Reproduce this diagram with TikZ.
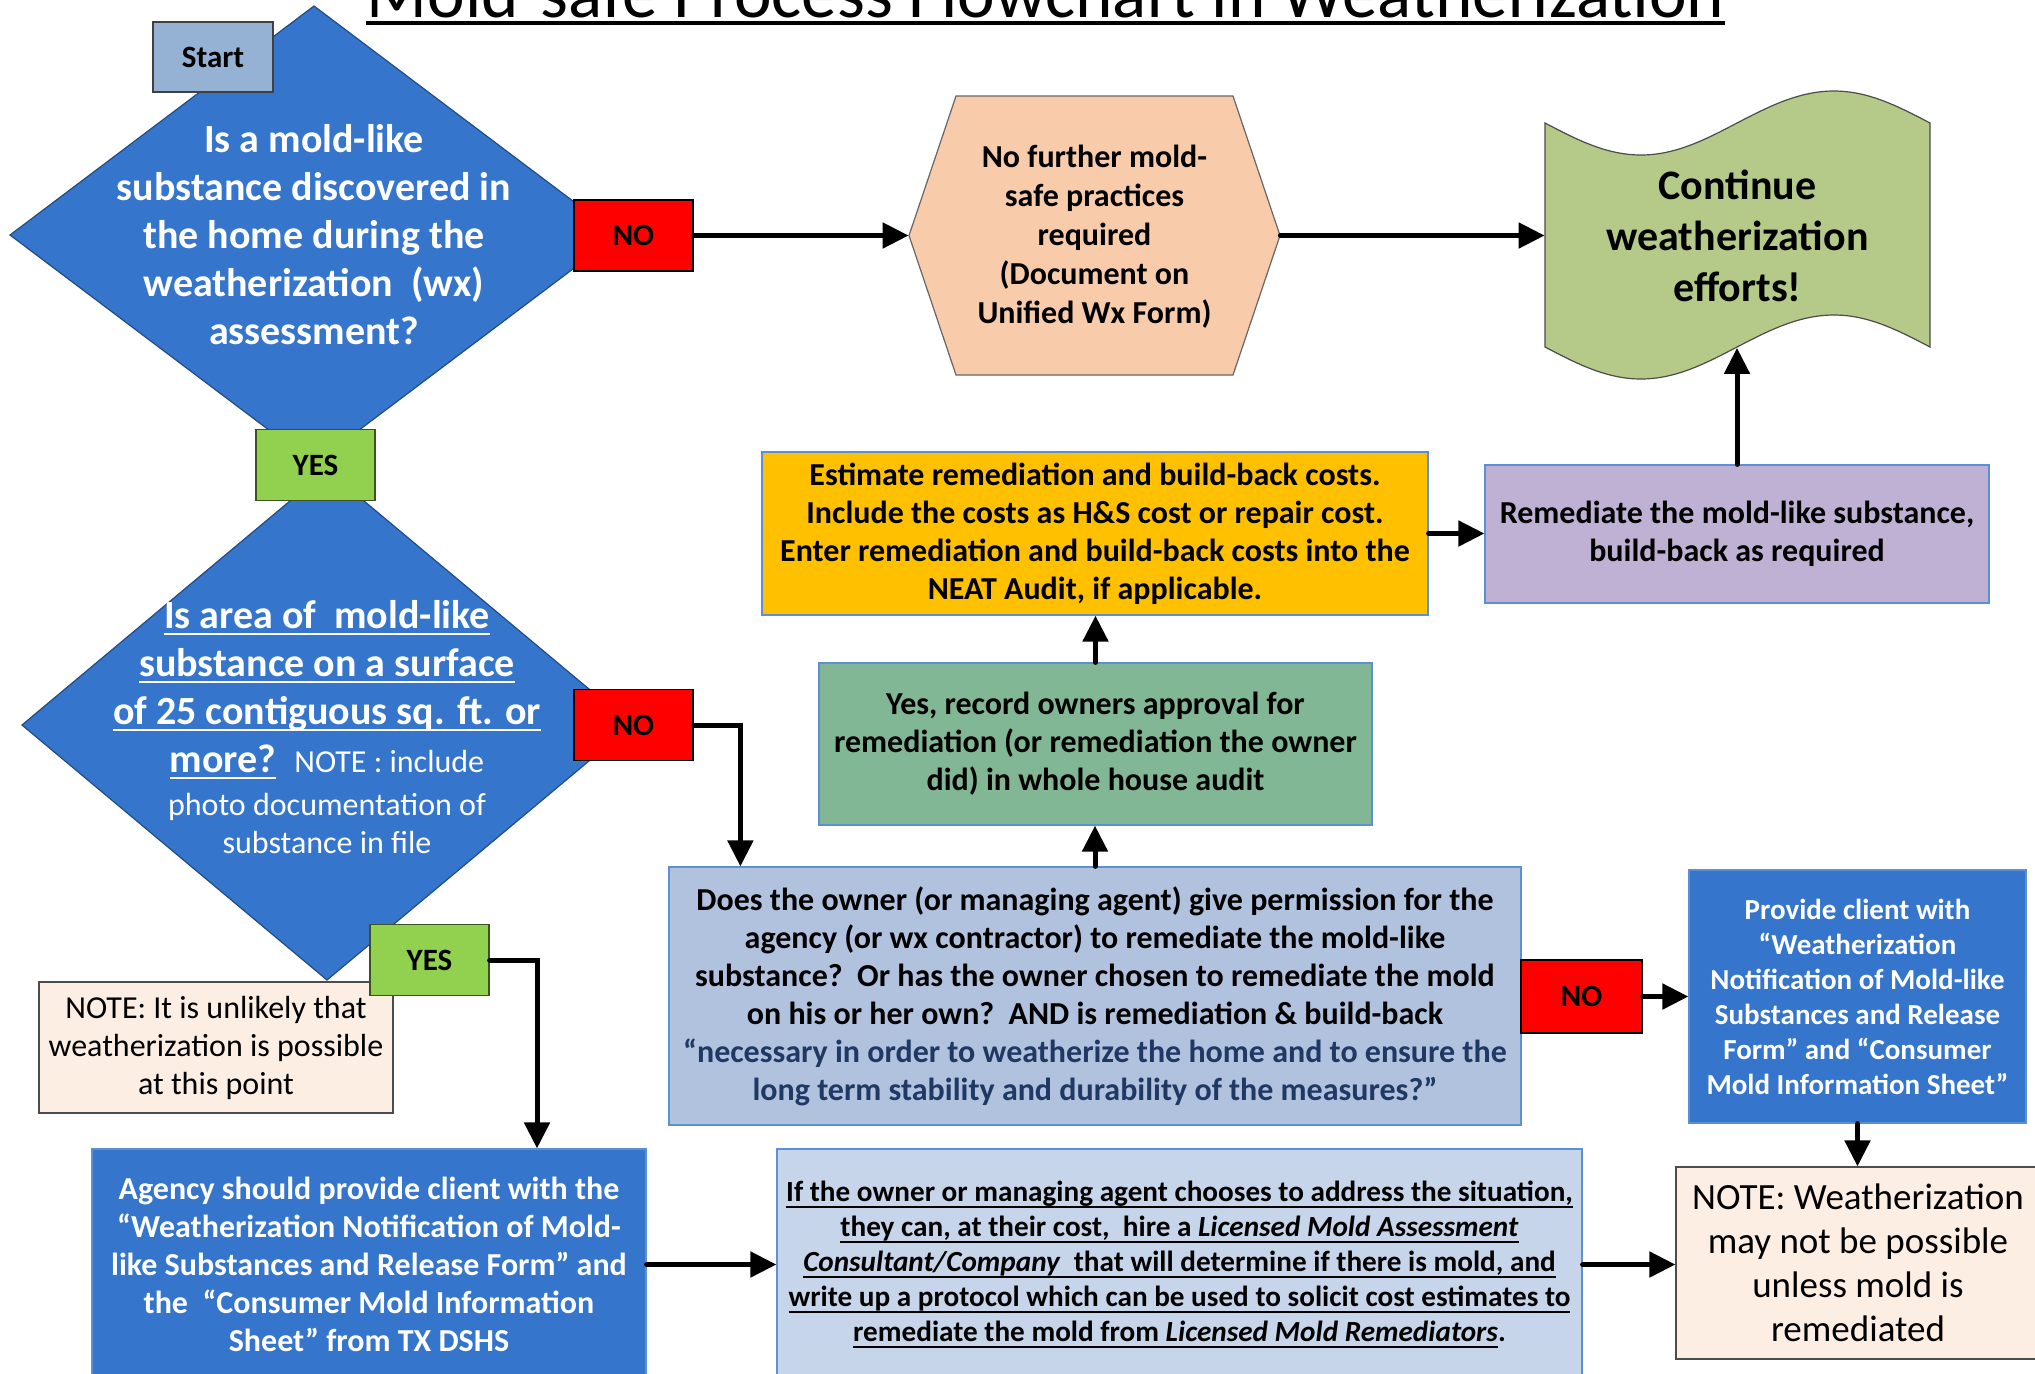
\documentclass[tikz,border=0pt]{standalone}
\usepackage{fontspec}
\setmainfont{Carlito}
\usetikzlibrary{arrows.meta}
\definecolor{B1}{RGB}{53,117,204}
\definecolor{S1}{RGB}{149,177,212}
\definecolor{G1}{RGB}{146,208,80}
\definecolor{P1}{RGB}{248,203,170}
\definecolor{W1}{RGB}{181,201,136}
\definecolor{O1}{RGB}{255,192,0}
\definecolor{V1}{RGB}{191,177,211}
\definecolor{A1}{RGB}{129,183,148}
\definecolor{Q1}{RGB}{176,194,222}
\definecolor{L1}{RGB}{198,213,233}
\definecolor{N1}{RGB}{253,238,227}
\definecolor{E1}{RGB}{91,143,214}
\definecolor{T1}{RGB}{31,56,100}
\newsavebox\ulbox
\newcommand\uln[1]{\sbox\ulbox{#1}\rlap{\rule[-3.5pt]{\wd\ulbox}{1pt}}\usebox\ulbox}
\newcommand\smtxt{\fontsize{16}{19}\selectfont\mdseries}

\begin{document}
\begin{tikzpicture}[x=0.5pt, y=-0.5pt,
    every node/.style={inner sep=0pt, align=center},
    lab/.style={draw=black, line width=0.6pt, minimum width=59.5pt, minimum height=35.5pt, font=\fontsize{15.5}{18}\selectfont\bfseries},
    nolab/.style={lab, fill=red},
    yeslab/.style={lab, fill=G1, draw=black!60!G1},
    stepbox/.style={draw=E1, line width=0.6pt, font=\fontsize{16}{19}\selectfont\bfseries},
    bluebox/.style={stepbox, fill=B1, text=white},
    notebox/.style={draw=black!70, fill=N1, line width=0.6pt},
    dia/.style={fill=B1, draw=B1!65!black, line width=0.6pt},
    flow/.style={line width=2.5pt, line cap=round, -{Triangle[length=13pt,width=12.5pt]}}]
  \useasboundingbox (0,0) rectangle (2035,1373);

  % title
  \node[anchor=base, font=\fontsize{35.6}{40}\selectfont] (title) at (1045.5,17) {Mold-safe Process Flowchart in Weatherization};
  \draw[line width=2pt] ([yshift=-3pt]title.base west) -- ([yshift=-3pt]title.base east);

  % first question
  \filldraw[dia] (314,6) -- (618,235) -- (314,464) -- (10,235) -- cycle;
  \node[text=white, font=\fontsize{20}{24}\selectfont\bfseries] (q1) at (314,235)
    {Is a mold-like\\substance discovered in\\the home during the\\weatherization\ \ (wx)\\assessment?};
  \node[fill=S1, draw=black!75, line width=0.6pt, minimum width=60pt, minimum height=35pt,
        font=\fontsize{15.5}{18}\selectfont\bfseries] (start) at (213,57) {Start};
  \node[nolab] (no1) at (633.5,235.5) {NO};

  % no further practices
  \filldraw[fill=P1, draw=black!60, line width=0.6pt] (909,235.5) -- (956,96) -- (1233,96) -- (1280,235.5) -- (1233,375) -- (956,375) -- cycle;
  \node[minimum width=185.5pt, minimum height=139.5pt, font=\fontsize{16}{19.5}\selectfont\bfseries] (nofurther) at (1094.5,236.5)
    {No further mold-\\safe practices\\required\\(Document on\\Unified Wx Form)};

  % continue
  \filldraw[fill=W1, draw=black!70, line width=0.6pt] (1545,123) sin (1641,155) cos (1737,123) sin (1834,91) cos (1930,123)
    -- (1930,347) sin (1834,315) cos (1737,347) sin (1641,379) cos (1545,347) -- cycle;
  \node[minimum width=192.5pt, minimum height=112pt, font=\fontsize{21}{25.5}\selectfont\bfseries] (continue) at (1737.5,235.5)
    {Continue\\weatherization\\efforts!};

  % second question
  \filldraw[dia] (327,470) -- (632,725) -- (327,980) -- (22,725) -- cycle;
  \node[text=white, font=\fontsize{20}{24}\selectfont\bfseries] (q2) at (327,727)
    {\uln{Is area of\ \ mold-like}\\
     \uln{substance on a surface}\\
     \uln{of 25 contiguous sq. ft. or}\\
     \uln{more?}\ \ {\smtxt NOTE : include}\\[-2.5pt]
     {\smtxt photo documentation of}\\[-5pt]
     {\smtxt substance in file}};
  \node[yeslab] (yes1) at (315.5,465) {YES};
  \node[nolab] (no2) at (633.5,725) {NO};
  \node[notebox, minimum width=177pt, minimum height=65.5pt, font=\fontsize{16}{19}\selectfont] (note1) at (216,1047.5)
    {NOTE: It is unlikely that\\weatherization is possible\\at this point};
  \node[yeslab] (yes2) at (429.5,960) {YES};

  % bottom row
  \node[bluebox, minimum width=277pt, minimum height=115.5pt] (agency) at (369,1264.5)
    {Agency should provide client with the\\“Weatherization Notification of Mold-\\like Substances and Release Form” and\\the\ \ “Consumer Mold Information\\Sheet” from TX DSHS};
  \node[stepbox, fill=L1, minimum width=402.5pt, minimum height=115.5pt, font=\fontsize{14.6}{17.5}\selectfont\bfseries] (licensed) at (1179.5,1264.5)
    {\uln{If the owner or managing agent chooses to address the situation,}\\
     \uln{they can, at their cost,\ \ hire a \textit{Licensed Mold Assessment}}\\
     \uln{\textit{Consultant/Company}\ \ that will determine if there is mold, and}\\
     \uln{write up a protocol which can be used to solicit cost estimates to}\\
     \uln{remediate the mold from \textit{Licensed Mold Remediators}}.};
  \node[notebox, minimum width=182pt, minimum height=96pt, font=\fontsize{18.5}{22}\selectfont] (note2) at (1858,1263)
    {NOTE: Weatherization\\may not be possible\\unless mold is\\remediated};

  % middle column
  \node[stepbox, fill=Q1, minimum width=426pt, minimum height=129pt] (owner) at (1095,996)
    {Does the owner (or managing agent) give permission for the\\agency (or wx contractor) to remediate the mold-like\\substance?\ \ Or has the owner chosen to remediate the mold\\on his or her own?\ \ AND is remediation \& build-back\\
     \textcolor{T1}{“necessary in order to weatherize the home and to ensure the}\\\textcolor{T1}{long term stability and durability of the measures?”}};
  \node[stepbox, fill=A1, minimum width=276.5pt, minimum height=81pt] (approval) at (1095.5,744)
    {Yes, record owners approval for\\remediation (or remediation the owner\\did) in whole house audit};
  \node[stepbox, fill=O1, minimum width=333pt, minimum height=81.5pt] (estimate) at (1095,533.5)
    {Estimate remediation and build-back costs.\\Include the costs as H\&S cost or repair cost.\\Enter remediation and build-back costs into the\\NEAT Audit, if applicable.};
  \node[stepbox, fill=V1, minimum width=252pt, minimum height=69pt] (remediate) at (1737,534)
    {Remediate the mold-like substance,\\build-back as required};
  \node[nolab, minimum width=60.5pt, minimum height=36.5pt] (no3) at (1581.5,996.5) {NO};
  \node[bluebox, minimum width=168.5pt, minimum height=126.5pt, font=\fontsize{14.5}{17.5}\selectfont\bfseries] (provide) at (1857.5,996.5)
    {Provide client with\\“Weatherization\\Notification of Mold-like\\Substances and Release\\Form” and “Consumer\\Mold Information Sheet”};

  % connectors
  \draw[flow] (no1.east) -- (no1.east -| nofurther.west);
  \draw[flow] (nofurther.east |- no1.east) -- (no1.east -| continue.west);
  \draw[flow] (no2.east) -| ([xshift=36pt]owner.north west);
  \draw[flow] (yes2.east) -| ([xshift=84pt]agency.north);
  \draw[flow] (agency.east) -- (licensed.west);
  \draw[flow] (licensed.east) -- (licensed.east -| note2.west);
  \draw[flow] (owner.north) -- (owner.north |- approval.south);
  \draw[flow] (approval.north) -- (approval.north |- estimate.south);
  \draw[flow] (estimate.east) -- (estimate.east -| remediate.west);
  \draw[flow] (remediate.north) -- (remediate.north |- continue.south);
  \draw[flow] (no3.east) -- (provide.west);
  \draw[flow] (provide.south) -- (provide.south |- note2.north);
\end{tikzpicture}
\end{document}
